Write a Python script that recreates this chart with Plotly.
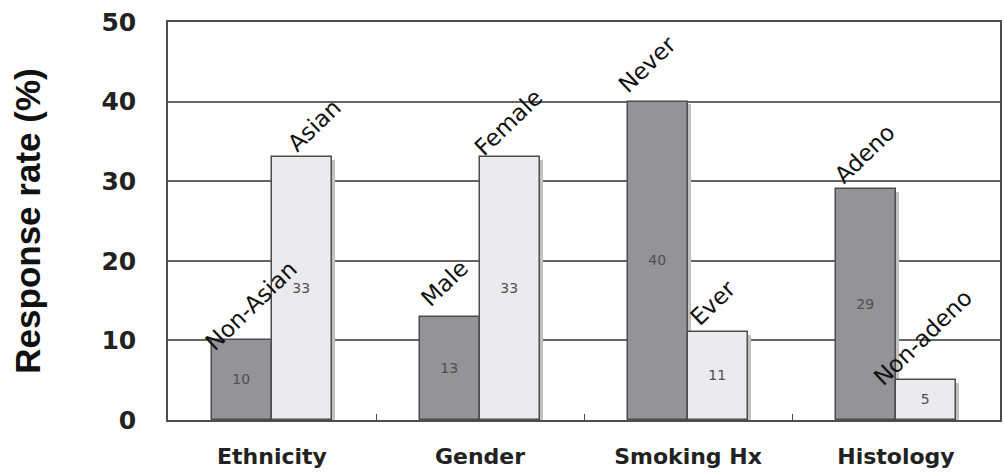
import math
import plotly.graph_objects as go

# Response rate by subgroup
categories = ["Ethnicity", "Gender", "Smoking Hx", "Histology"]
group_a_names = ["Non-Asian", "Male", "Never", "Adeno"]
group_a_values = [10, 13, 40, 29]
group_b_names = ["Asian", "Female", "Ever", "Non-adeno"]
group_b_values = [33, 33, 11, 5]
y_ticks = [0, 10, 20, 30, 40, 50]

# layout geometry
W, H = 1004, 473
M_L, M_R, M_T, M_B = 168, 2, 22, 53
PLOT_W = W - M_L - M_R
PX_PER_CAT = PLOT_W / len(categories)
BAR_W = 0.288            # bar width in category units
SHADOW_DX = 0.016        # drop-shadow shift (category units)
SHADOW_DY = 0.35         # drop-shadow shift (data units)

FONT = "DejaVu Sans"
TITLE_FONT = "Liberation Sans"
DARK = "#939398"
LIGHT = "#ebebed"
EDGE = "#4d4d4d"
GRID = "#666666"

# per-label nudges (px) for the rotated subgroup names: (dx, dy) relative to bar top-left
nudge_a = [(-5, 12), (3, -9), (-7, -7), (0, -4)]
nudge_b = [(18, -4), (-3, 0), (4, -5), (-20, 7)]

fig = go.Figure()

# soft drop shadows behind each bar
for off, vals in ((-BAR_W, group_a_values), (0, group_b_values)):
    fig.add_trace(go.Bar(
        x=categories, y=[v - SHADOW_DY for v in vals],
        width=BAR_W, offset=off + SHADOW_DX,
        marker=dict(color="#c2c2c4", line=dict(width=0)),
        hoverinfo="skip", showlegend=False,
    ))

fig.add_trace(go.Bar(
    x=categories, y=group_a_values, width=BAR_W, offset=-BAR_W,
    marker=dict(color=DARK, line=dict(color=EDGE, width=1.5)),
    text=[str(v) for v in group_a_values], textposition="inside",
    insidetextanchor="middle", textangle=0,
    textfont=dict(family=FONT, size=14, color="#505050"),
    showlegend=False,
))
fig.add_trace(go.Bar(
    x=categories, y=group_b_values, width=BAR_W, offset=0,
    marker=dict(color=LIGHT, line=dict(color=EDGE, width=1.5)),
    text=[str(v) for v in group_b_values], textposition="inside",
    insidetextanchor="middle", textangle=0,
    textfont=dict(family=FONT, size=14, color="#505050"),
    showlegend=False,
))

# rotated subgroup names above the bars
LABEL_SIZE = 23
ANGLE = 44
box_h = LABEL_SIZE * 1.3
base_dx = -box_h * math.sin(math.radians(ANGLE)) + 11
for names, vals, left_off, nudges in (
    (group_a_names, group_a_values, -BAR_W, nudge_a),
    (group_b_names, group_b_values, 0, nudge_b),
):
    for cat, name, v, (dx, dy) in zip(categories, names, vals, nudges):
        fig.add_annotation(
            x=cat, y=v, xref="x", yref="y", text=name, showarrow=False,
            textangle=-ANGLE, xanchor="left", yanchor="bottom",
            xshift=left_off * PX_PER_CAT + dx + base_dx, yshift=-dy - 6,
            font=dict(family=FONT, size=LABEL_SIZE, color="#111111"),
        )

fig.update_layout(
    width=W, height=H,
    margin=dict(l=M_L, r=M_R, t=M_T, b=M_B),
    paper_bgcolor="white", plot_bgcolor="white",
    barmode="overlay", bargap=0,
    font=dict(family=FONT, color="#222222"),
)
fig.update_xaxes(
    type="category", categoryorder="array", categoryarray=categories,
    range=[-0.5, len(categories) - 0.5],
    showline=True, linecolor=EDGE, linewidth=1.5, mirror=True,
    showgrid=False, ticks="inside", tickson="boundaries", ticklen=6,
    tickcolor=EDGE, tickwidth=1,
    tickfont=dict(family=FONT, size=22, color="#222222", weight="bold"),
    ticklabelstandoff=16,
)
fig.update_yaxes(
    range=[0, 50], tickvals=y_ticks,
    showline=True, linecolor=EDGE, linewidth=1.5, mirror=True,
    showgrid=True, gridcolor=GRID, gridwidth=1.5, zeroline=False,
    ticks="", ticklabelstandoff=25,
    tickfont=dict(family=FONT, size=25, color="#222222", weight="bold"),
    title=dict(text="Response rate (%)", standoff=50,
               font=dict(family=TITLE_FONT, size=35, color="#111111", weight="bold")),
)

fig.write_html("out.html")
